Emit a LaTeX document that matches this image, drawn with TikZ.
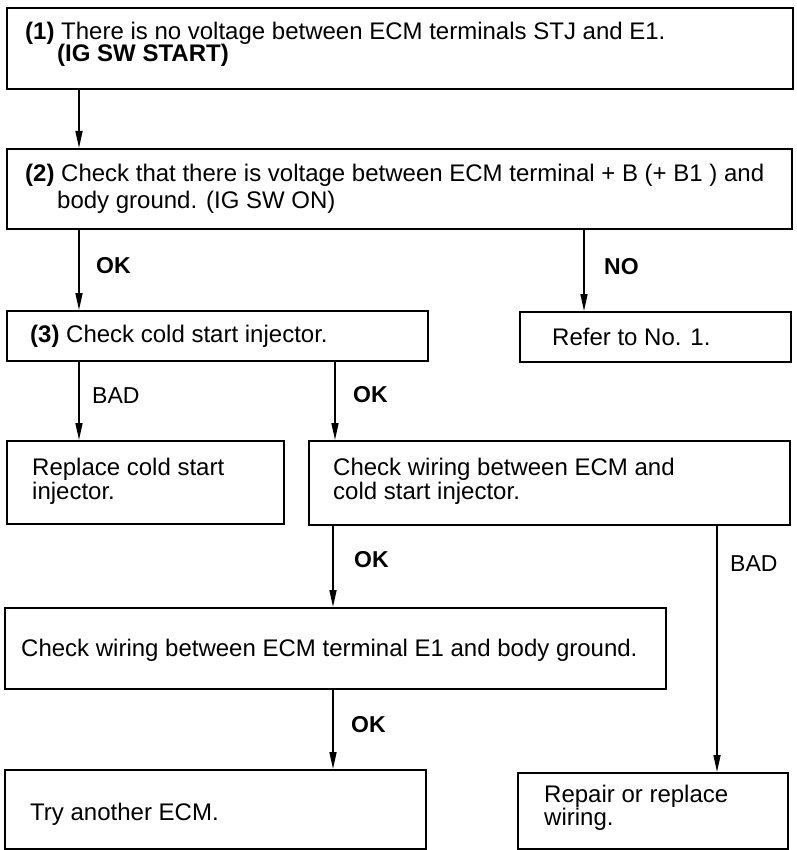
\documentclass[tikz,border=0pt]{standalone}
\usepackage{fontspec}
\setmainfont{Liberation Sans}
\usetikzlibrary{arrows.meta}
\tikzset{
  box/.style={draw, line width=2.2pt, inner sep=0pt, anchor=north west, fill=white},
  txt/.style={inner sep=0pt, anchor=base west, font=\fontsize{24}{24}\selectfont},
  lbl/.style={inner sep=0pt, anchor=base west, font=\fontsize{23}{23}\selectfont},
  arr/.style={line width=1.6pt, -{Triangle[length=17pt,width=7pt]}}
}
\begin{document}
\begin{tikzpicture}[x=1pt,y=-1pt]
\useasboundingbox (0,0) rectangle (796,850);
% boxes
\node[box, minimum width=786pt, minimum height=81pt] (b1) at (6,7) {};
\node[box, minimum width=785pt, minimum height=80pt] (b2) at (6,148) {};
\node[box, minimum width=421pt, minimum height=50pt] (b3) at (6,310) {};
\node[box, minimum width=271pt, minimum height=50pt] (refer) at (519,311) {};
\node[box, minimum width=277pt, minimum height=83pt] (replace) at (6,440) {};
\node[box, minimum width=481pt, minimum height=84pt] (checkw) at (308,440) {};
\node[box, minimum width=661pt, minimum height=81pt] (e1) at (4,607) {};
\node[box, minimum width=421pt, minimum height=79pt] (try) at (4,769) {};
\node[box, minimum width=270pt, minimum height=76pt] (repair) at (517,772) {};
% texts
\node[txt] (t1a) at (25,40) {\textbf{(1)} There is no voltage between ECM terminals STJ and E1.};
\node[txt] (t1b) at (57,62) {\textbf{(IG SW START)}};
\node[txt] (t2a) at (25,182) {\textbf{(2)} Check that there is voltage between ECM terminal + B (+ B1 ) and};
\node[txt] (t2b) at (57,208) {body ground. (IG SW ON)};
\node[txt] (t3) at (30,342) {\textbf{(3)} Check cold start injector.};
\node[txt] (trefer) at (552,345) {Refer to No. 1.};
\node[txt] (trep1) at (32,475) {Replace cold start};
\node[txt] (trep2) at (32,499) {injector.};
\node[txt] (tcw1) at (333,475) {Check wiring between ECM and};
\node[txt] (tcw2) at (333,499) {cold start injector.};
\node[txt] (te1) at (21,656) {Check wiring between ECM terminal E1 and body ground.};
\node[txt] (ttry) at (30,820) {Try another ECM.};
\node[txt] (trp1) at (544,802) {Repair or replace};
\node[txt] (trp2) at (544,825) {wiring.};
% connector x positions
\coordinate (xa) at (79,0);
\coordinate (xb) at (584,0);
\coordinate (xc) at (335,0);
\coordinate (xd) at (333,0);
\coordinate (xe) at (717,0);
% connectors
\draw[arr] (b1.south -| xa) -- (b2.north -| xa);
\draw[arr] (b2.south -| xa) -- (b3.north -| xa);
\draw[arr] (b2.south -| xb) -- (refer.north -| xb);
\draw[arr] (b3.south -| xa) -- (replace.north -| xa);
\draw[arr] (b3.south -| xc) -- (checkw.north -| xc);
\draw[arr] (checkw.south -| xd) -- (e1.north -| xd);
\draw[arr] (checkw.south -| xe) -- (repair.north -| xe);
\draw[arr] (e1.south -| xd) -- (try.north -| xd);
% labels
\node[lbl] (l1) at (96,273) {\textbf{OK}};
\node[lbl] (l2) at (604,274) {\textbf{NO}};
\node[lbl] (l3) at (92,403) {BAD};
\node[lbl] (l4) at (353,402) {\textbf{OK}};
\node[lbl] (l5) at (354,567) {\textbf{OK}};
\node[lbl] (l6) at (730,571) {BAD};
\node[lbl] (l7) at (351,732) {\textbf{OK}};
\end{tikzpicture}
\end{document}
